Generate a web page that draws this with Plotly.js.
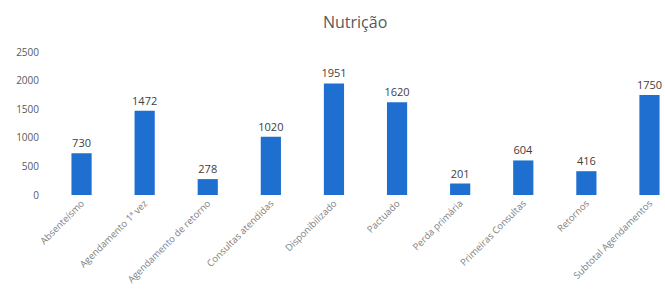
<!DOCTYPE html>
<html>
<head>
<meta charset="utf-8">
<script src="https://cdn.plot.ly/plotly-3.0.1.min.js"></script>
<style>html,body{margin:0;padding:0;background:#fff;}#chart{width:665px;height:299px;}</style>
</head>
<body>
<div id="chart"></div>
<script>
const categories = ["Absenteísmo", "Agendamento 1ª vez", "Agendamento de retorno", "Consultas atendidas", "Disponibilizado", "Pactuado", "Perda primária", "Primeiras Consultas", "Retornos", "Subtotal Agendamentos"];
const values = [730, 1472, 278, 1020, 1951, 1620, 201, 604, 416, 1750];
const yTicks = [0, 500, 1000, 1500, 2000, 2500];

const trace = {
  type: 'bar',
  x: categories,
  y: values,
  text: values.map(String),
  textposition: 'outside',
  constraintext: 'none',
  cliponaxis: false,
  textfont: {family: '"Open Sans", sans-serif', size: 11, color: '#404040'},
  marker: {color: '#1f6fd0'},
  hoverinfo: 'x+y'
};

const layout = {
  width: 665, height: 299,
  margin: {l: 50, r: 0, t: 52, b: 104},
  paper_bgcolor: '#fff', plot_bgcolor: '#fff',
  font: {family: '"Open Sans", sans-serif', color: '#595959'},
  title: {text: 'Nutrição', x: 0.534, xanchor: 'center', y: 0.925, yanchor: 'middle', font: {family: '"Open Sans", sans-serif', size: 16, color: '#595959', weight: 'normal'}},
  bargap: 0.68,
  showlegend: false,
  xaxis: {
    type: 'category',
    range: [-0.5, 9.246],
    tickangle: -45,
    tickfont: {size: 9.5, color: '#808080'},
    showgrid: false, zeroline: false, showline: false, ticks: ''
  },
  yaxis: {
    range: [0, 2500],
    tickvals: yTicks,
    ticktext: yTicks.map(String),
    tickfont: {size: 10, color: '#595959'},
    showgrid: false, zeroline: false, showline: false, ticks: '',
    ticklabelstandoff: 10
  }
};

Plotly.newPlot('chart', [trace], layout, {staticPlot: true});
</script>
</body>
</html>
